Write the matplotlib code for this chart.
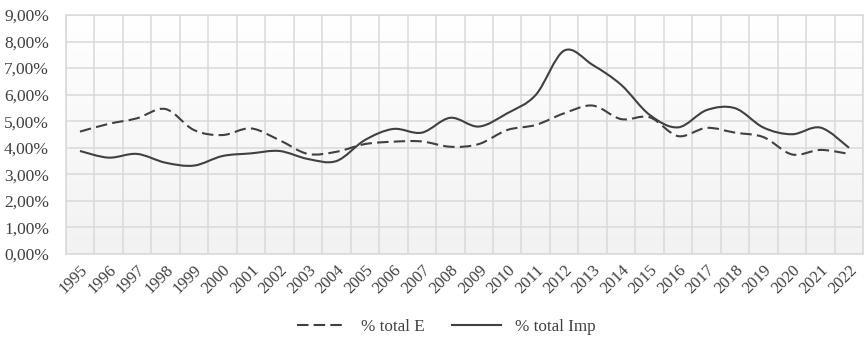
import numpy as np
import matplotlib
matplotlib.use("Agg")
import matplotlib.pyplot as plt
from matplotlib.path import Path
from matplotlib.patches import PathPatch
from matplotlib.lines import Line2D
from matplotlib.ticker import FuncFormatter

years = [str(y) for y in range(1995, 2023)]
total_e = [4.61, 4.90, 5.11, 5.46, 4.67, 4.48, 4.73, 4.29, 3.77, 3.85,
           4.14, 4.23, 4.24, 4.04, 4.14, 4.67, 4.86, 5.30, 5.59, 5.08,
           5.15, 4.44, 4.75, 4.57, 4.40, 3.75, 3.92, 3.77]
total_imp = [3.88, 3.63, 3.77, 3.44, 3.33, 3.69, 3.79, 3.88, 3.58, 3.50,
             4.29, 4.71, 4.57, 5.13, 4.80, 5.30, 5.99, 7.66, 7.12, 6.37,
             5.24, 4.77, 5.42, 5.49, 4.76, 4.51, 4.76, 4.00]

INK = "#404040"
TXT = "#404040"
GRID = "#d9d9d9"

plt.rcParams["font.family"] = ["Liberation Serif", "DejaVu Serif"]


def smooth_path(x, y):
    # Excel-like smoothed line: Catmull-Rom turned into cubic Bezier segments
    x = np.asarray(x, float); y = np.asarray(y, float)
    verts = [(x[0], y[0])]
    codes = [Path.MOVETO]
    n = len(x)
    for i in range(n - 1):
        p0 = (x[i - 1], y[i - 1]) if i > 0 else (x[i], y[i])
        p1 = (x[i], y[i]); p2 = (x[i + 1], y[i + 1])
        p3 = (x[i + 2], y[i + 2]) if i + 2 < n else p2
        c1 = (p1[0] + (p2[0] - p0[0]) / 6, p1[1] + (p2[1] - p0[1]) / 6)
        c2 = (p2[0] - (p3[0] - p1[0]) / 6, p2[1] - (p3[1] - p1[1]) / 6)
        verts += [c1, c2, p2]
        codes += [Path.CURVE4] * 3
    return Path(verts, codes)


fig = plt.figure(figsize=(8.65, 3.41), dpi=100)
ax = fig.add_axes([0.076, 0.255, 0.922, 0.701])

x = np.arange(len(years))
ax.set_xlim(-0.5, len(years) - 0.5)
ax.set_ylim(0, 9)

# light vertical gradient in plot area: white at top, pale grey at bottom
grad = np.linspace(0.0, 1.0, 256).reshape(-1, 1)
ax.imshow(grad, extent=[0, 1, 0, 1], transform=ax.transAxes, aspect="auto", origin="lower",
          cmap=matplotlib.colors.LinearSegmentedColormap.from_list("g", ["#f2f2f2", "#ffffff"]),
          zorder=0, vmin=0, vmax=1)

ax.set_yticks(np.arange(0, 10, 1))
ax.yaxis.set_major_formatter(FuncFormatter(lambda v, p: f"{v:.2f}".replace(".", ",") + "%"))
ax.set_xticks(x)
ax.set_xticklabels(years, rotation=45, ha="right", rotation_mode="anchor")
ax.set_xticks(np.arange(-0.5, len(years), 1), minor=True)
ax.tick_params(axis="both", which="both", length=0, colors=TXT)
ax.tick_params(axis="y", labelsize=12.5, pad=12)
ax.tick_params(axis="x", labelsize=12, pad=6)
ax.grid(axis="y", which="major", color=GRID, lw=1.1, zorder=1)
ax.grid(axis="x", which="minor", color=GRID, lw=1.1, zorder=1)
for s in ax.spines.values():
    s.set_color(GRID)
    s.set_linewidth(1.1)

ax.add_patch(PathPatch(smooth_path(x, total_e), fill=False, edgecolor=INK, lw=1.5,
                       linestyle=(0, (5.5, 2.5)), zorder=3))
ax.add_patch(PathPatch(smooth_path(x, total_imp), fill=False, edgecolor=INK, lw=1.5, zorder=3))

handles = [Line2D([], [], color=INK, lw=1.5, linestyle=(0, (5.5, 2.5))),
           Line2D([], [], color=INK, lw=1.5)]
fig.legend(handles, ["% total E", "% total Imp"], loc="center", bbox_to_anchor=(0.516, 0.04),
           ncol=2, frameon=False, fontsize=12.3, handlelength=2.9, handletextpad=0.8,
           columnspacing=1.6, labelcolor=TXT)

fig.savefig("out.png", dpi=100)
